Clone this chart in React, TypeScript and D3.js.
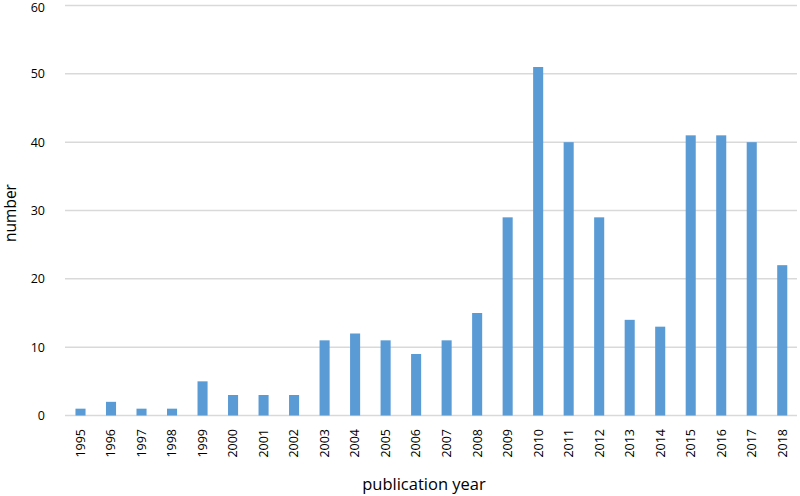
import React from "react";
import * as d3 from "d3";

const years = ["1995","1996","1997","1998","1999","2000","2001","2002","2003","2004","2005","2006","2007","2008","2009","2010","2011","2012","2013","2014","2015","2016","2017","2018"];
const counts = [1,2,1,1,5,3,3,3,11,12,11,9,11,15,29,51,40,29,14,13,41,41,40,22];
const yTicks = [0,10,20,30,40,50,60];

export default function App() {
  const W = 800, H = 496;
  const x = d3.scaleBand<string>().domain(years).range([65.25, 797.5]).paddingInner(0.67).paddingOuter(0.335);
  const y = d3.scaleLinear().domain([0, 60]).range([415.5, 5.5]);
  const font = "'Open Sans', 'Liberation Sans', sans-serif";
  return (
    <svg width={W} height={H} style={{ position: "absolute", left: 0, top: 0 }}>
      <rect width={W} height={H} fill="#fff" />
      {yTicks.map(t => (
        <g key={t}>
          <line x1={65} x2={797} y1={y(t)} y2={y(t)} stroke="#d9d9d9" strokeWidth={1.5} />
          <text x={45} y={Math.max(y(t), 8)} dy="0.35em" textAnchor="end" fontFamily={font} fontSize={12.5} fill="#000">{t}</text>
        </g>
      ))}
      {years.map((yr, i) => (
        <rect key={yr} x={x(yr)} y={y(counts[i])} width={x.bandwidth()} height={y(0) - y(counts[i])} fill="#5b9bd5" />
      ))}
      {years.map(yr => (
        <text key={yr} transform={`translate(${x(yr)! + x.bandwidth() / 2},429) rotate(-90)`} textAnchor="end" dy="0.35em" fontFamily={font} fontSize={12.5} fill="#000">{yr}</text>
      ))}
      <text transform="translate(11,213) rotate(-90)" textAnchor="middle" dy="0.35em" fontFamily={font} fontSize={15.5} fill="#000">number</text>
      <text x={424} y={490} textAnchor="middle" fontFamily={font} fontSize={16.5} fill="#000">publication year</text>
    </svg>
  );
}
